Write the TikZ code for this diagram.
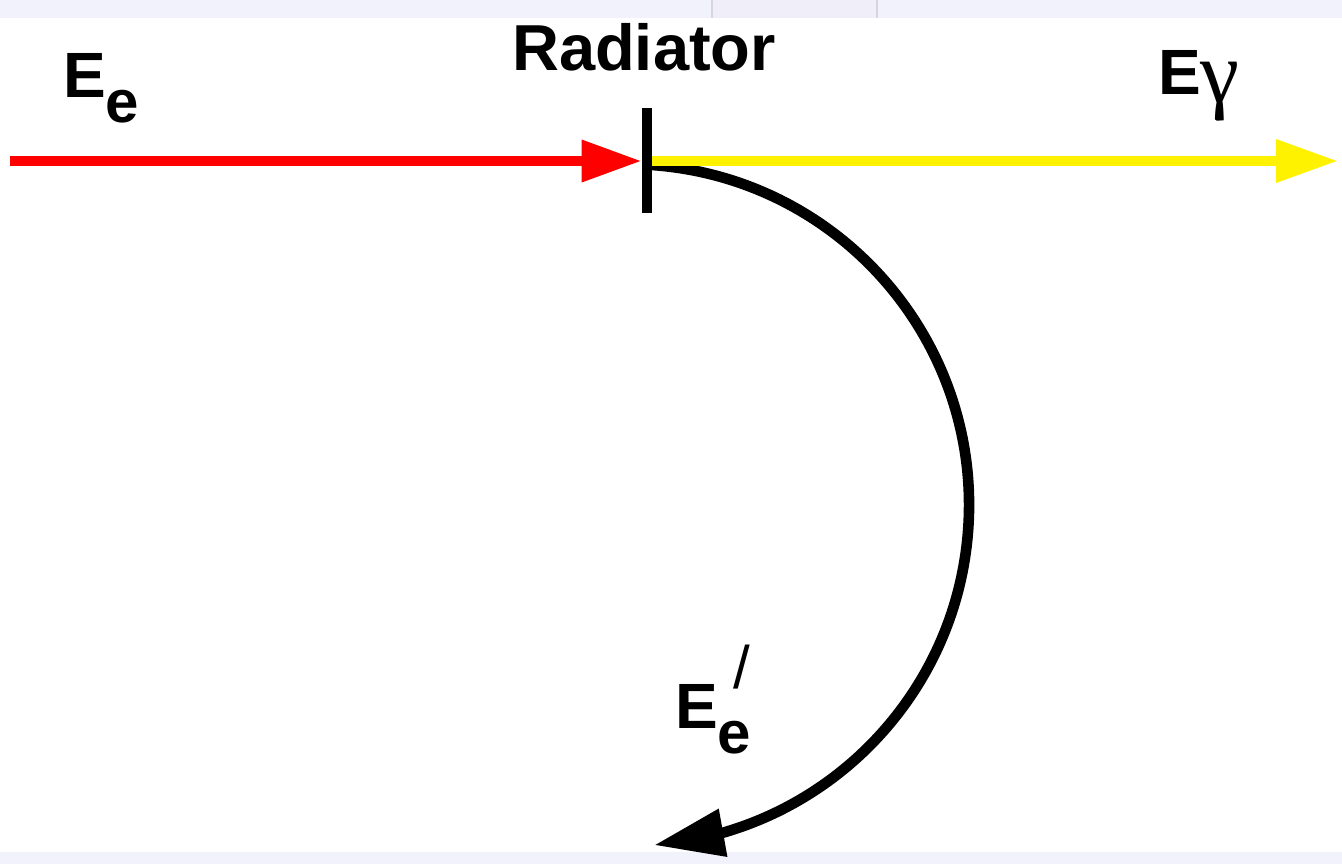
\documentclass[tikz,border=0pt]{standalone}
\usepackage{fontspec}
\setmainfont{Liberation Sans}
\newfontfamily\slashfont{Liberation Sans}
\newfontfamily\greekfont{Liberation Serif}
\usetikzlibrary{arrows.meta,bending}
\definecolor{bandcol}{RGB}{242,242,252}
\definecolor{bandline}{RGB}{215,213,228}
\definecolor{bandmid}{RGB}{240,238,248}
\begin{document}
\begin{tikzpicture}[x=0.5pt,y=-0.5pt,
  lbl/.style={inner sep=0pt,outer sep=0pt,anchor=base west,font=\fontsize{32pt}{36pt}\selectfont\bfseries},
  beam/.style={line width=5pt},
  arc/.style={line width=5.3pt}]
\useasboundingbox (0,0) rectangle (1342,864);
% screenshot bands
\fill[bandcol] (0,0) rectangle (1342,18);
\fill[bandmid] (712,0) rectangle (877,18);
\draw[bandline,line width=0.7pt] (712,0) -- (712,18) (877,0) -- (877,18);
\fill[bandcol] (0,852) rectangle (1342,864);
% radiator
\node[fill=black,inner sep=0pt,minimum width=5pt,minimum height=52.5pt] (bar) at (647,160.5) {};
\node[inner sep=0pt,anchor=base,font=\fontsize{32.5pt}{36pt}\selectfont\bfseries] (rad) at (644,70) {Radiator};
% coordinates
\coordinate (ein) at (10,161);
\coordinate (gout) at (1338,161);
\coordinate (astart) at (652,165);
% deflected electron
\draw[arc,-{Triangle[length=35pt,width=23pt,flex]}] (astart) arc[start angle=-85.97,end angle=85.6,radius=341];
% beams
\draw[beam,red,-{Triangle[length=30pt,width=20pt]}] (ein) -- (bar.west |- ein);
\draw[beam,yellow,-{Triangle[length=31pt,width=20.5pt]}] (bar.east |- gout) -- (gout);
% labels
\node[lbl] (ee) at (63,97) {E\raisebox{-12.5pt}{\fontsize{30pt}{34pt}\selectfont e}};
\node[lbl] (eg) at (1158,94) {E\raisebox{-4pt}{\fontsize{44pt}{48pt}\selectfont\mdseries\greekfont γ}};
\node[lbl] (eep) at (675,728) {E\raisebox{-12.5pt}{\fontsize{30pt}{34pt}\selectfont e}\hspace{-9pt}\raisebox{20pt}{\fontsize{30pt}{34pt}\selectfont\mdseries\slashfont /}};
\end{tikzpicture}
\end{document}
